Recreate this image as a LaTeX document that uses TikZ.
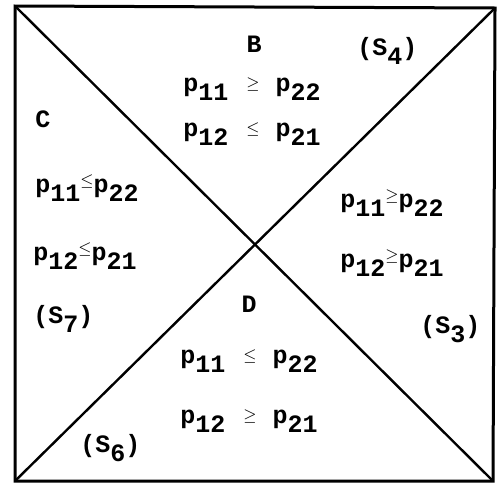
\documentclass[tikz,border=0pt]{standalone}
\usepackage{fontspec}
\setmonofont{Liberation Mono}
\newcommand{\pp}[1]{p\raisebox{-4.5pt}{#1}}
\newcommand{\rel}[1]{\raisebox{1.5pt}{\footnotesize$#1$}}
\newcommand{\relh}[1]{\raisebox{3.5pt}{\footnotesize$#1$}}
\tikzset{lab/.style={font=\ttfamily\bfseries\fontsize{12.5}{14}\selectfont,inner sep=0pt}}
\begin{document}
\begin{tikzpicture}[x=0.5pt,y=0.5pt]
		\useasboundingbox (0,0) rectangle (501,484);
		%cadre
		\coordinate (hg) at (15,478);
		\coordinate (hd) at (495,476);
		\coordinate (bd) at (493,3);
		\coordinate (bg) at (15,3);
		\draw[line width=1.5pt] (hg)--(hd)--(bd)--(bg)--cycle;
		\draw[line width=1.2pt] (hg)--(bd);
		\draw[line width=1.2pt] (hd)--(bg);
		%décorations
		\draw (254,432) node[lab,anchor=base] (B) {B};
		\draw (252,393) node[lab,anchor=base] (B1) {\pp{11}\hspace{9pt}\rel{\geq}\hspace{8pt}\pp{22}};
		\draw (252,348) node[lab,anchor=base] (B2) {\pp{12}\hspace{9pt}\rel{\leq}\hspace{8pt}\pp{21}};
		\draw (357,429) node[lab,anchor=base west] (S4) {(S\raisebox{-4.5pt}{4})};
		\draw (35,357) node[lab,anchor=base west] (C) {C};
		\draw (35,292) node[lab,anchor=base west] (C1) {\pp{11}\relh{\leq}\pp{22}};
		\draw (33,224) node[lab,anchor=base west] (C2) {\pp{12}\relh{\leq}\pp{21}};
		\draw (33,161) node[lab,anchor=base west] (S7) {(S\raisebox{-4.5pt}{7})};
		\draw (340,277) node[lab,anchor=base west] (E1) {\pp{11}\relh{\geq}\pp{22}};
		\draw (340,217) node[lab,anchor=base west] (E2) {\pp{12}\relh{\geq}\pp{21}};
		\draw (420,151) node[lab,anchor=base west] (S3) {(S\raisebox{-4.5pt}{3})};
		\draw (249,172) node[lab,anchor=base] (D) {D};
		\draw (249,121) node[lab,anchor=base] (D1) {\pp{11}\hspace{9pt}\rel{\leq}\hspace{8pt}\pp{22}};
		\draw (249,61) node[lab,anchor=base] (D2) {\pp{12}\hspace{9pt}\rel{\geq}\hspace{8pt}\pp{21}};
		\draw (80,32) node[lab,anchor=base west] (S6) {(S\raisebox{-4.5pt}{6})};
	\end{tikzpicture}
\end{document}
